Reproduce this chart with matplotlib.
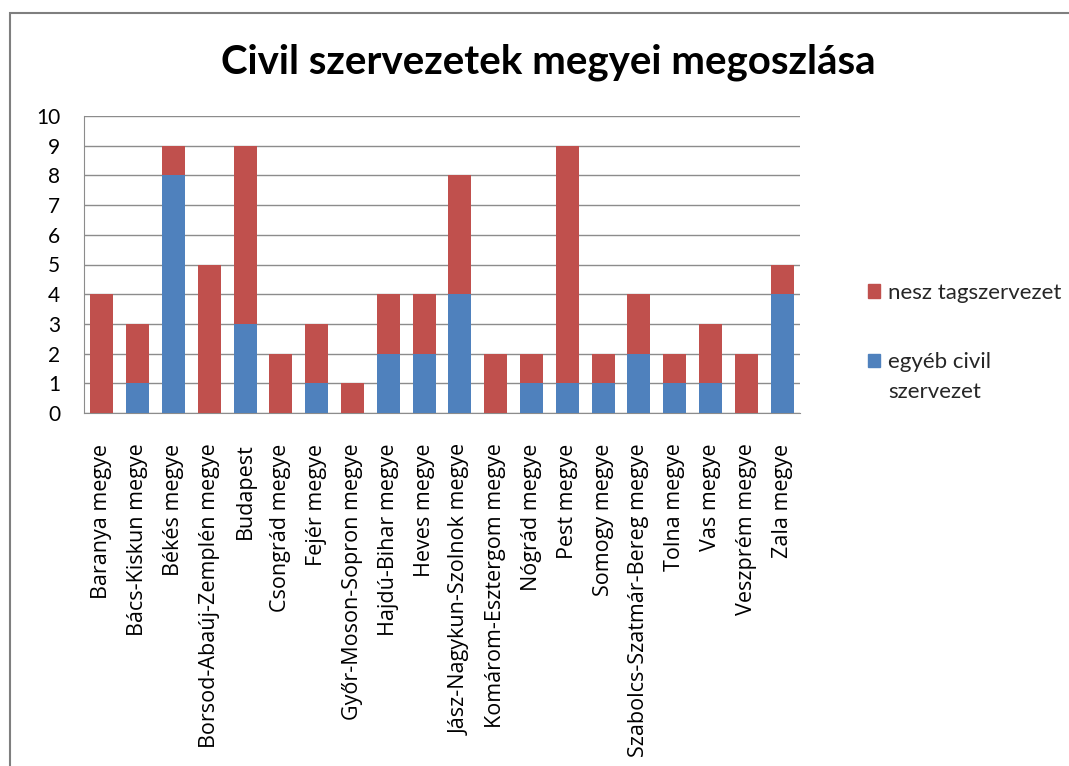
import numpy as np
import matplotlib.pyplot as plt
from matplotlib.patches import Rectangle, Patch
from matplotlib.legend_handler import HandlerPatch

megyek = ['Baranya megye', 'Bács-Kiskun megye', 'Békés megye', 'Borsod-Abaúj-Zemplén megye',
          'Budapest', 'Csongrád megye', 'Fejér megye', 'Győr-Moson-Sopron megye',
          'Hajdú-Bihar megye', 'Heves megye', 'Jász-Nagykun-Szolnok megye',
          'Komárom-Esztergom megye', 'Nógrád megye', 'Pest megye', 'Somogy megye',
          'Szabolcs-Szatmár-Bereg megye', 'Tolna megye', 'Vas megye', 'Veszprém megye', 'Zala megye']
egyeb = [0, 1, 8, 0, 3, 0, 1, 0, 2, 2, 4, 0, 1, 1, 1, 2, 1, 1, 0, 4]
nesz = [4, 2, 1, 5, 6, 2, 2, 1, 2, 2, 4, 2, 1, 8, 1, 2, 1, 2, 2, 1]

KEK = '#4F81BD'
PIROS = '#C0504D'

plt.rcParams['font.family'] = ['Lato', 'DejaVu Sans']

fig = plt.figure(figsize=(10.69, 7.66), dpi=100)
ax = fig.add_axes([84 / 1069, 1 - 413 / 766, 716 / 1069, 297 / 766])

x = np.arange(len(megyek))
ax.bar(x, egyeb, width=0.64, color=KEK, zorder=3)
ax.bar(x, nesz, width=0.64, bottom=egyeb, color=PIROS, zorder=3)

ax.set_xlim(-0.5, len(megyek) - 0.5)
ax.set_ylim(0, 10)
ax.set_yticks(range(0, 11))
ax.grid(axis='y', color='#8c8c8c', linewidth=1, zorder=0)
ax.set_xticks(x)
ax.set_xticklabels(megyek, rotation=90, fontsize=15.5, family=['Open Sans', 'DejaVu Sans'])
ax.tick_params(axis='y', labelsize=15, length=0, pad=17)
ax.tick_params(axis='x', length=0, pad=22)
for s in ['top', 'right']:
    ax.spines[s].set_visible(False)
for s in ['left', 'bottom']:
    ax.spines[s].set_color('#8c8c8c')

fig.text(548 / 1069, 1 - 62 / 766, 'Civil szervezetek megyei megoszlása',
         ha='center', va='center', fontsize=29, fontweight='bold')


# marker az első sorhoz igazítva, mint az Excelben
def felso_jel(legend, orig_handle, xdescent, ydescent, width, height, fontsize):
    return Rectangle((-xdescent, -ydescent + 12), width, height)


h_piros = Patch(color=PIROS, label='nesz tagszervezet')
h_kek = Patch(color=KEK, label='egyéb civil\nszervezet')
leg = fig.legend(handles=[h_piros, h_kek], loc='upper left',
                 bbox_to_anchor=(859 / 1069, 1 - 274 / 766), borderaxespad=0,
                 frameon=False, fontsize=16, handlelength=0.55, handleheight=0.55,
                 handletextpad=0.35, labelspacing=2.2,
                 handler_map={h_kek: HandlerPatch(patch_func=felso_jel)})
for t in leg.get_texts():
    t.set_linespacing(1.66)
    t.set_color('#262626')

fig.patches.append(Rectangle((10 / 1069, -0.1), 1.2, 1 - 13 / 766 + 0.1, transform=fig.transFigure,
                             fill=False, edgecolor='#7f7f7f', linewidth=1.5))

fig.savefig('out.png', dpi=100)
